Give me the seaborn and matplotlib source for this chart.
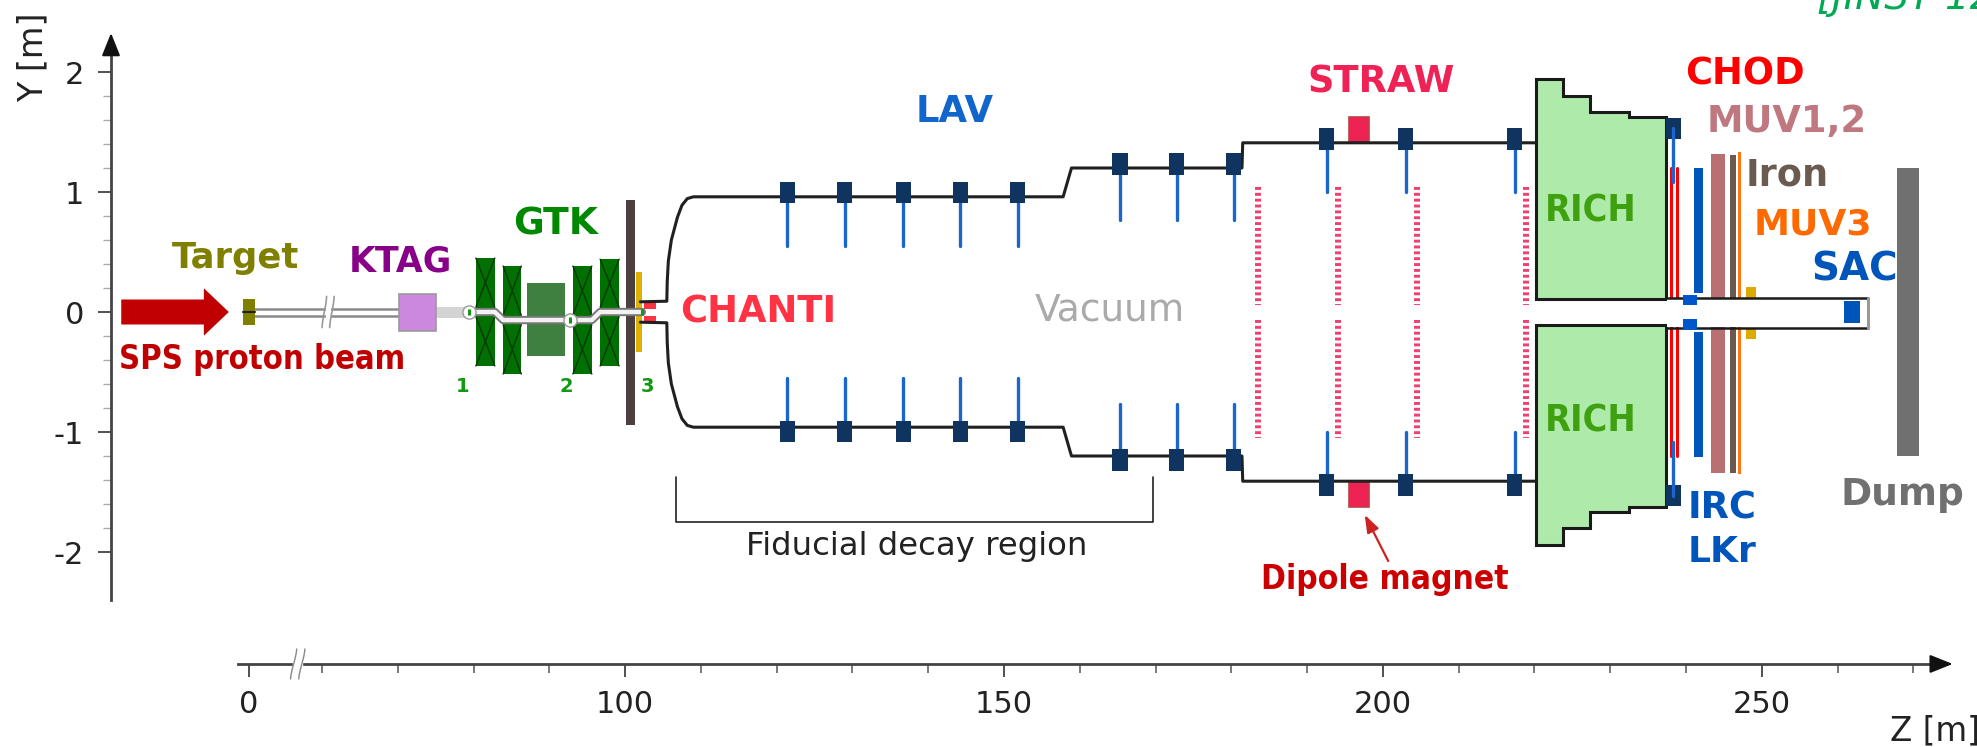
import numpy as np
import matplotlib
matplotlib.use("Agg")
import matplotlib.pyplot as plt
import seaborn as sns
import pandas as pd
from matplotlib.patches import Rectangle

# ---------- data: Z [m], Y [m] ----------
axis_z_anchor = [-200, 0, 60, 500]
axis_p_anchor = [-149.7, 50.3, 60, 500]
z_major = [0, 100, 150, 200, 250]
z_major_labels = ["0", "100", "150", "200", "250"]
z_minor = [60, 70, 80, 90, 110, 120, 130, 140, 160, 170, 180, 190, 210, 220, 230, 240, 260, 270]
y_major = [2, 1, 0, -1, -2]
y_major_labels = ["2", "1", "0", "-1", "-2"]
y_minor = [1.8, 1.6, 1.4, 1.2, 0.8, 0.6, 0.4, 0.2, -0.2, -0.4, -0.6, -0.8, -1.2, -1.4, -1.6, -1.8]

tank_z = [102.0, 105.5, 105.55, 105.7, 106.1, 106.9, 107.5, 108.2, 109.0, 157.8, 158.9, 181.4, 181.5, 220.2]
tank_y = [0.085, 0.09, 0.25, 0.425, 0.60, 0.79, 0.89, 0.945, 0.96, 0.96, 1.2, 1.2, 1.41, 1.41]

lav_z = [121.4, 129.0, 136.7, 144.2, 151.8, 165.3, 172.8, 180.3, 192.6, 203.0, 217.4, 238.3]
lav_y = [0.995, 0.995, 0.995, 0.995, 0.995, 1.235, 1.235, 1.235, 1.44, 1.44, 1.44, 1.53]
lav_inner = [0.55, 0.55, 0.55, 0.55, 0.55, 0.77, 0.77, 0.77, 1.0, 1.0, 1.0, 1.08]

straw_z = [183.5, 194.1, 204.5, 218.9]
rich_z = [220.2, 220.2, 223.7, 223.7, 227.3, 227.3, 232.5, 232.5, 237.3, 237.3]
rich_y = [0.105, 1.94, 1.94, 1.80, 1.80, 1.667, 1.667, 1.625, 1.625, 0.105]

gtk_magnet_z = [(80.3, 82.8), (83.9, 86.3), (93.1, 95.6), (96.7, 99.2)]
gtk_magnet_y = [(0.45, -0.45), (0.383, -0.517), (0.383, -0.517), (0.44, -0.45)]
gtk_pipe_z = [79.4, 82.8, 83.9, 95.6, 96.7, 102.2]
gtk_pipe_y = [0, 0, -0.067, -0.067, 0, 0]
gtk_station_z = [79.4, 92.7, 102.2]
gtk_station_y = [0, -0.067, 0]

# rectangular detector elements: name -> z0, z1, y0, y1
element_rects = [
    ("target", -0.7, 5.3, -0.108, 0.108, "#808000"),
    ("ktag", 70.2, 75.1, -0.158, 0.15, "#cc88dd"),
    ("gtk_core", 87.1, 92.1, -0.367, 0.242, "#3f8040"),
    ("wall", 100.1, 101.3, -0.942, 0.933, "#4d3f3f"),
    ("yellow", 101.45, 102.2, -0.333, 0.333, "#e0b000"),
    ("chanti_up", 102.5, 104.1, 0.025, 0.083, "#ff3344"),
    ("chanti_dn", 102.5, 104.1, -0.092, -0.033, "#ff3344"),
    ("dipole_up", 195.5, 198.2, 1.417, 1.625, "#ee2255"),
    ("dipole_dn", 195.5, 198.2, -1.625, -1.417, "#ee2255"),
    ("lkr_up", 241.0, 242.3, 0.158, 1.2, "#0055bb"),
    ("lkr_dn", 241.0, 242.3, -1.208, -0.167, "#0055bb"),
    ("muv12_up", 243.3, 245.1, 0.117, 1.32, "#b87070"),
    ("muv12_dn", 243.3, 245.1, -1.34, -0.12, "#b87070"),
    ("iron_up", 245.8, 246.6, 0.117, 1.31, "#6b5a50"),
    ("iron_dn", 245.8, 246.6, -1.34, -0.12, "#6b5a50"),
    ("muv3_up", 246.8, 247.2, 0.117, 1.33, "#ff7711"),
    ("muv3_dn", 246.8, 247.2, -1.35, -0.12, "#ff7711"),
    ("sac_yel_up", 247.9, 249.3, 0.117, 0.208, "#ddaa00"),
    ("sac_yel_dn", 247.9, 249.3, -0.225, -0.133, "#ddaa00"),
    ("sac", 260.8, 262.9, -0.088, 0.088, "#0055bb"),
    ("dump", 267.9, 270.7, -1.2, 1.2, "#707070"),
    ("irc_up", 239.6, 241.4, 0.058, 0.142, "#0055cc"),
    ("irc_dn", 239.6, 241.4, -0.15, -0.058, "#0055cc"),
]
chod_z = [238.0, 238.75]

labels = [
    ("Target", -1.66, 0.45, "#808000", 25.5, "bold", "normal"),
    ("KTAG", 70.4, 0.42, "#880088", 25, "bold", "normal"),
    ("GTK", 90.8, 0.727, "#008800", 27, "bold", "normal"),
    ("SPS proton beam", 11.1, -0.395, "#c00000", 23.5, "bold", "condensed"),
    ("CHANTI", 117.5, -0.004, "#ff3344", 26.6, "bold", "normal"),
    ("LAV", 143.5, 1.667, "#1166cc", 26.6, "bold", "normal"),
    ("Vacuum", 164.0, 0.012, "#aaaaaa", 27, "normal", "normal"),
    ("STRAW", 199.7, 1.917, "#ee2255", 26.5, "bold", "normal"),
    ("CHOD", 247.8, 1.985, "#ff0000", 26.5, "bold", "normal"),
    ("MUV1,2", 253.3, 1.585, "#c07880", 26.5, "bold", "normal"),
    ("Iron", 253.3, 1.145, "#6b5a50", 26.4, "bold", "normal"),
    ("MUV3", 256.7, 0.728, "#ff6a00", 26, "bold", "normal"),
    ("SAC", 262.3, 0.355, "#0055bb", 28, "bold", "normal"),
    ("Dump", 268.5, -1.525, "#707070", 27, "bold", "normal"),
    ("IRC", 244.7, -1.63, "#0055bb", 26.5, "bold", "normal"),
    ("LKr", 244.7, -2.0, "#0055bb", 26, "bold", "normal"),
    ("RICH", 227.4, 0.835, "#3fa010", 27, "bold", "condensed"),
    ("RICH", 227.4, -0.915, "#3fa010", 27, "bold", "condensed"),
    ("Dipole magnet", 200.3, -2.23, "#cc0000", 24, "bold", "condensed"),
    ("1", 78.6, -0.617, "#119911", 14, "bold", "normal"),
    ("2", 92.2, -0.617, "#119911", 14, "bold", "normal"),
    ("3", 103.0, -0.617, "#119911", 14, "bold", "normal"),
    ("Fiducial decay region", 138.5, -1.955, "#222222", 23.3, "normal", "normal"),
]

# ---------- figure ----------
sns.set_theme(style="white", rc={"font.family": ["DejaVu Sans"]})
fig = plt.figure(figsize=(19.77, 7.47), dpi=100)
ax = fig.add_axes([0, 0, 1, 1])
fwd = lambda z: np.interp(z, axis_z_anchor, axis_p_anchor)
inv = lambda p: np.interp(p, axis_p_anchor, axis_z_anchor)
ax.set_xscale("function", functions=(fwd, inv))
ax.patch.set_alpha(0)


def rect(z0, z1, y0, y1, color, ec="none", lw=0, zorder=3):
    ax.add_patch(Rectangle((z0, y0), z1 - z0, y1 - y0, fc=color, ec=ec, lw=lw, zorder=zorder))


def s_break(z0, z1, yc, h, color="#999999", lw=1.2, zorder=6):
    t = np.linspace(-1, 1, 15)
    ax.plot(z0 + (z1 - z0) * (0.5 + 0.5 * np.sin(t * 1.3) / np.sin(1.3)), yc + h * t,
            color=color, lw=lw, zorder=zorder)


# beam arrow
ax.annotate("", xy=(-2.6, 0), xytext=(-16.8, 0),
            arrowprops=dict(arrowstyle="simple,head_length=1.0,head_width=1.9,tail_width=1.0",
                            color="#c00000", lw=0, mutation_scale=18, shrinkA=0, shrinkB=0), zorder=4)

# beam pipe before GTK
for off in (0.028, -0.028):
    ax.plot([5.3, 70.2], [off - 0.005, off - 0.005], color="#8a8a8a", lw=1.8, zorder=2)
ax.plot([75.1, 79.4], [0, 0], color="#d4d4d4", lw=8, zorder=2, solid_capstyle="butt")
ax.plot([-0.7, 5.3], [0, 0], color="#202020", lw=1.5, zorder=5)
ax.fill_between([60.55, 61.0], -0.12, 0.12, color="white", zorder=3)
s_break(60.0, 60.6, 0, 0.13)
s_break(61.0, 61.6, 0, 0.13)

# rectangles
for name, z0, z1, y0, y1, c in element_rects:
    ec = "#999999" if name == "ktag" else ("#c04040" if name.startswith("dipole") else "none")
    rect(z0, z1, y0, y1, c, ec=ec, lw=1.2 if ec != "none" else 0, zorder=3)

# GTK magnets with X marks
for (z0, z1), (yt, yb) in zip(gtk_magnet_z, gtk_magnet_y):
    rect(z0, z1, yb, yt, "#007000", zorder=3)
    pipe_c = -0.067 if z0 > 83 and z1 < 96 else 0.0
    for a, b in ((yt, pipe_c + 0.04), (pipe_c - 0.04, yb)):
        ax.plot([z0, z1], [a, b], color="#063806", lw=1.0, zorder=4)
        ax.plot([z0, z1], [b, a], color="#063806", lw=1.0, zorder=4)

ax.plot(gtk_pipe_z, gtk_pipe_y, color="#777777", lw=6.0, zorder=6, solid_joinstyle="round")
ax.plot(gtk_pipe_z, gtk_pipe_y, color="#f2f2f2", lw=3.2, zorder=7, solid_joinstyle="round")
ax.scatter(gtk_station_z[:2], gtk_station_y[:2], s=90, marker="o", fc="white", ec="#999999",
           lw=1, zorder=8)
ax.scatter(gtk_station_z, gtk_station_y, s=16, marker="|", color="#119911", lw=2.2, zorder=9)

# vacuum tank
tank = pd.DataFrame({"z": tank_z, "y": tank_y})
for sign in (1, -1):
    sns.lineplot(data=tank.assign(y=sign * tank.y), x="z", y="y", sort=False, estimator=None,
                 color="#202020", lw=2.2, ax=ax, zorder=4)

# LAV stations
for z, y, inner in zip(lav_z, lav_y, lav_inner):
    for s in (1, -1):
        ax.plot([z, z], [s * inner, s * y], color="#1a66cc", lw=2.4, zorder=5 if z < 235 else 9)
        rect(z - 1.0, z + 1.0, s * (y - 0.09), s * (y + 0.09), "#0f3460", zorder=6)

# STRAW chambers
for z in straw_z:
    for a, b in ((1.04, 0.06), (-0.07, -1.05)):
        ax.plot([z, z], [a, b], color="#f0406f", lw=4.3, linestyle=(0, (0.49, 0.49)), zorder=3)

# RICH
for s in (1, -1):
    ax.fill(rich_z, s * np.array(rich_y), fc="#aeeaaa", ec="#1a1a1a", lw=2.2, zorder=3)

# CHOD
for z in chod_z:
    for a, b in ((1.2, 0.117), (-0.12, -1.2)):
        ax.plot([z, z], [a, b], color="#ff0000", lw=2.2, zorder=5)

# downstream pipe
ax.plot([237.3, 264, 264, 237.3], [0.117, 0.117, -0.133, -0.133], color="#1a1a1a", lw=1.8, zorder=7)
ax.plot([264, 264], [0.117, -0.133], color="#999999", lw=2.2, zorder=8)
rect(237.5, 263.8, -0.125, 0.11, "white", zorder=6)
for name, z0, z1, y0, y1, c in element_rects:
    if name in ("sac", "irc_up", "irc_dn"):
        rect(z0, z1, y0, y1, c, zorder=9)

# dipole arrow, fiducial bracket
ax.annotate("", xy=(197.6, -1.69), xytext=(200.7, -2.075),
            arrowprops=dict(arrowstyle="-|>,head_length=0.7,head_width=0.25", color="#cc2222", lw=1.6,
                            mutation_scale=15, shrinkA=0, shrinkB=0), zorder=5)
ax.plot([106.7, 106.7, 169.7, 169.7], [-1.375, -1.75, -1.75, -1.375], color="#222222", lw=1.2, zorder=3)

# text
for text, z, y, c, fs, w, st in labels:
    ax.text(z, y, text, color=c, fontsize=fs, fontweight=w, fontstretch=st,
            ha="center", va="center", zorder=12)
ax.text(-28.4, 2.125, "Y [m]", rotation=90, color="#222222", fontsize=24, ha="center", va="center")
ax.text(272.8, -3.49, "Z [m]", color="#222222", fontsize=23.5, ha="center", va="center")
ax.text(257.3, 2.525, "[JINST 12 (2017) P05025]", color="#00aa55", fontsize=28, style="italic",
        ha="left", va="baseline", clip_on=False)

# axes
ax.set_xlim(-32.8, 278.4)
ax.set_ylim(-3.625, 2.6)
for sp in ("top", "right"):
    ax.spines[sp].set_visible(False)
ax.spines["left"].set_position(("data", -18.15))
ax.spines["left"].set_bounds(-2.4, 2.25)
ax.spines["bottom"].set_position(("data", -2.933))
ax.spines["bottom"].set_bounds(-1.4, 273.5)
for sp in ("left", "bottom"):
    ax.spines[sp].set_color("#444444")
    ax.spines[sp].set_linewidth(2.0)
ax.set_xticks(z_major)
ax.set_xticklabels(z_major_labels)
ax.set_xticks(z_minor, minor=True)
ax.set_yticks(y_major)
ax.set_yticklabels(y_major_labels)
ax.set_yticks(y_minor, minor=True)
ax.tick_params(axis="x", which="major", direction="out", bottom=True, length=9.5, width=1.2,
               color="#333333", labelsize=22, labelcolor="#222222", pad=9)
ax.tick_params(axis="x", which="minor", direction="out", bottom=True, length=6.5, width=1.1, color="#555555")
ax.tick_params(axis="y", which="major", direction="out", left=True, length=9.5, width=1.2,
               color="#333333", labelsize=22, labelcolor="#222222", pad=10)
ax.tick_params(axis="y", which="minor", direction="out", left=True, length=6, width=1.0, color="#aaaaaa")
ax.set_xlabel("")
ax.set_ylabel("")

# axis arrows and axis break
ax.annotate("", xy=(-18.15, 2.325), xytext=(-18.15, 2.2),
            arrowprops=dict(arrowstyle="-|>,head_length=0.7,head_width=0.28", color="#111111", lw=1.5,
                            mutation_scale=20, shrinkA=0, shrinkB=0))
ax.annotate("", xy=(275.2, -2.933), xytext=(273, -2.933),
            arrowprops=dict(arrowstyle="-|>,head_length=0.7,head_width=0.28", color="#111111", lw=1.5,
                            mutation_scale=20, shrinkA=0, shrinkB=0))
ax.fill_between([36.5, 43.5], -3.0, -2.87, color="white", zorder=5, clip_on=False)
s_break(34.3, 39.3, -2.933, 0.125, color="#888888", lw=1.0)
s_break(41.0, 46.0, -2.933, 0.125, color="#888888", lw=1.0)

fig.savefig("out.png", dpi=100)
